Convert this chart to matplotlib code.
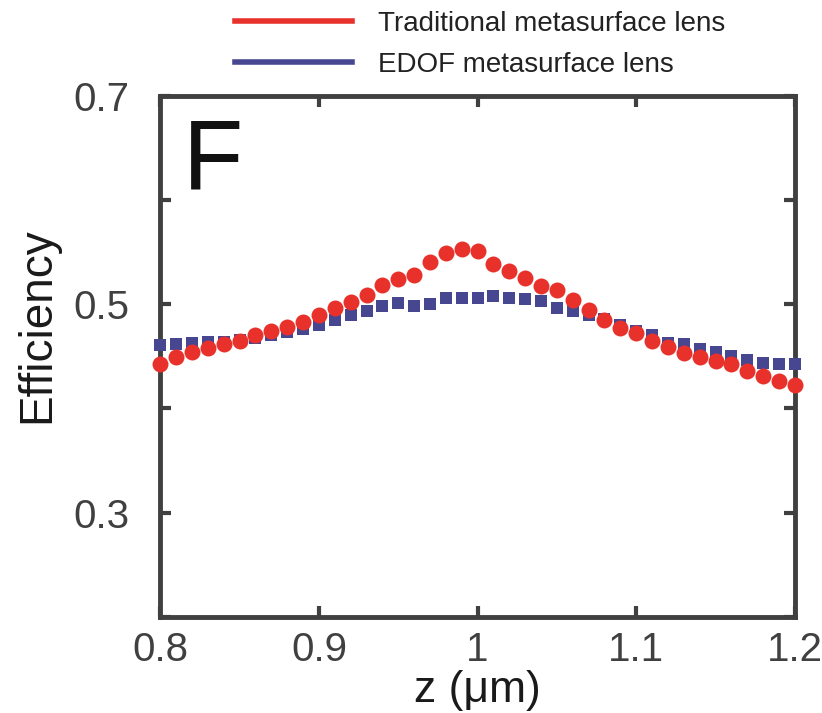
import numpy as np
import matplotlib.pyplot as plt

plt.rcParams['font.family'] = ['Liberation Sans', 'DejaVu Sans']

#==Dados==#
z = [0.80, 0.81, 0.82, 0.83, 0.84, 0.85, 0.86, 0.87, 0.88, 0.89,
     0.90, 0.91, 0.92, 0.93, 0.94, 0.95, 0.96, 0.97, 0.98, 0.99,
     1.00, 1.01, 1.02, 1.03, 1.04, 1.05, 1.06, 1.07, 1.08, 1.09,
     1.10, 1.11, 1.12, 1.13, 1.14, 1.15, 1.16, 1.17, 1.18, 1.19, 1.20]

traditional = [0.442, 0.449, 0.454, 0.458, 0.462, 0.465, 0.470, 0.474, 0.478, 0.483,
               0.489, 0.496, 0.502, 0.509, 0.518, 0.524, 0.528, 0.540, 0.549, 0.553,
               0.551, 0.538, 0.532, 0.525, 0.517, 0.513, 0.504, 0.494, 0.485, 0.477,
               0.472, 0.465, 0.459, 0.453, 0.449, 0.445, 0.442, 0.436, 0.431, 0.426, 0.422]

edof = [0.461, 0.4615, 0.4625, 0.4632, 0.4638, 0.4657, 0.4673, 0.470, 0.4734, 0.476,
        0.4798, 0.4849, 0.4894, 0.4936, 0.4978, 0.5006, 0.4984, 0.500, 0.5058, 0.5058,
        0.5058, 0.508, 0.506, 0.505, 0.503, 0.496, 0.493, 0.489, 0.486, 0.480,
        0.474, 0.470, 0.463, 0.4615, 0.457, 0.4535, 0.450, 0.446, 0.443, 0.442, 0.442]

labels = ['Traditional metasurface lens', 'EDOF metasurface lens']
xticks = [0.8, 0.9, 1.0, 1.1, 1.2]
xticklabels = ['0.8', '0.9', '1', '1.1', '1.2']
yticks = [0.2, 0.3, 0.4, 0.5, 0.6, 0.7]
yticklabels = ['', '0.3', '', '0.5', '', '0.7']

red = '#e8312b'
blue = '#474691'
grey = '#404040'

#==Cria o gráfico==#
fig = plt.figure(figsize=(8.22, 7.13), dpi=100)
ax = fig.add_axes([0.195, 0.135, 0.772, 0.731])

ax.plot(z, edof, 's', color=blue, markersize=9, markeredgewidth=0, clip_on=False, zorder=3)
ax.plot(z, traditional, 'o', color=red, markersize=11.5, markeredgewidth=0, clip_on=False, zorder=4)

ax.set_xlim(0.8, 1.2)
ax.set_ylim(0.2, 0.7)
ax.set_xticks(xticks)
ax.set_xticklabels(xticklabels)
ax.set_yticks(yticks)
ax.set_yticklabels(yticklabels)

ax.tick_params(direction='in', length=8, width=3, color=grey, labelcolor=grey,
               labelsize=29, top=True, right=True)
ax.tick_params(axis='y', pad=22)
ax.tick_params(axis='x', pad=10)
for s in ax.spines.values():
    s.set_linewidth(3.5)
    s.set_color(grey)

ax.set_xlabel('z (μm)', fontsize=32, labelpad=1, color='#1a1a1a')
ax.set_ylabel('Efficiency', fontsize=33, color='#1a1a1a')
ax.yaxis.set_label_coords(-0.159, 0.56)

ax.text(0.035, 0.958, 'F', transform=ax.transAxes, fontsize=71, va='top', ha='left',
        color='#111111')

#==Legenda em linhas acima do eixo==#
h1, = ax.plot([], [], '-', color=red, lw=4)
h2, = ax.plot([], [], '-', color=blue, lw=4)
fig.legend([h1, h2], labels, loc='upper left', bbox_to_anchor=(0.286, 0.985),
           frameon=False, fontsize=20, handlelength=4.2, handletextpad=0.95,
           labelspacing=0.55, borderpad=0, borderaxespad=0, labelcolor='#222222')

fig.savefig('out.png', dpi=100)
